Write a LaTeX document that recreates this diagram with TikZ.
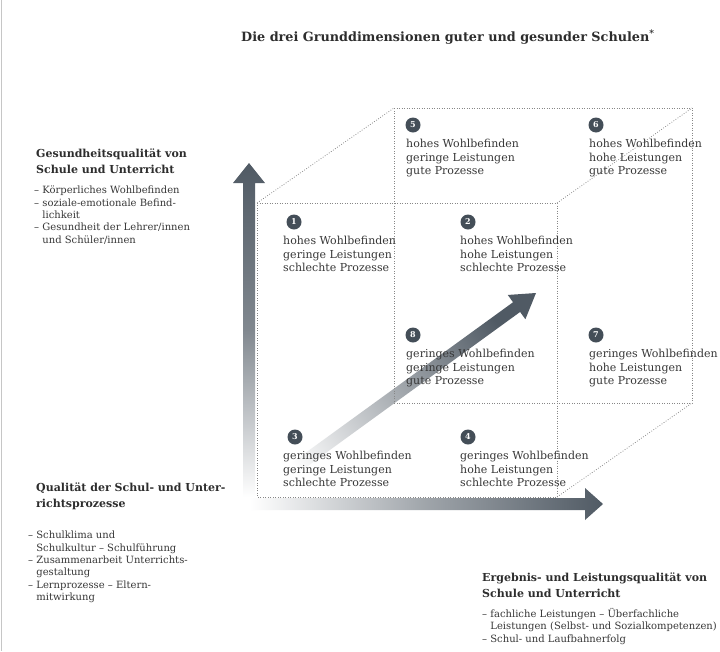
\documentclass[tikz,border=0pt]{standalone}
\usepackage{fontspec}
\setmainfont{DejaVu Serif}
\usetikzlibrary{calc}
\definecolor{adark}{RGB}{80,90,100}
\definecolor{cgray}{RGB}{68,78,88}
\definecolor{lgray}{RGB}{135,135,135}
\definecolor{txt}{RGB}{55,55,55}
\definecolor{htxt}{RGB}{45,45,45}
\begin{document}
\begin{tikzpicture}[x=1pt,y=-1pt,
  cubeline/.style={draw=lgray, line width=0.75pt, dash pattern=on 0.8pt off 1.7pt},
  numc/.style={circle, fill=cgray, text=white, font=\bfseries\fontsize{8}{8}\selectfont, inner sep=0pt, minimum size=15pt},
  celltext/.style={anchor=north west, align=left, inner sep=0pt, text=txt, font=\fontsize{11}{13.5}\selectfont},
  headtext/.style={anchor=north west, align=left, inner sep=0pt, text=htxt, font=\bfseries\fontsize{11}{15.5}\selectfont},
  listtext/.style={anchor=north west, align=left, inner sep=0pt, text=txt, font=\fontsize{10}{12.3}\selectfont},
  titletext/.style={anchor=west, inner sep=0pt, text=htxt, font=\bfseries\fontsize{12.8}{15}\selectfont}
]
\useasboundingbox (0,0) rectangle (720,651);
\fill[white] (0,0) rectangle (720,651);
\draw[gray!45, line width=0.8pt] (1.5,0) -- (1.5,651);

% cube corners
\coordinate (FTL) at (257,203);
\coordinate (FTR) at (557,203);
\coordinate (FBR) at (557,497);
\coordinate (FBL) at (257,497);
\coordinate (BTL) at (394,108);
\coordinate (BTR) at (692,108);
\coordinate (BBR) at (692,403);
\coordinate (BBL) at (394,403);

% arrows (shaded shapes)
\shade[top color=adark, bottom color=white, middle color=adark!72!white]
  (243,497) -- (243,183) -- (233,183) -- (249,163) -- (265,183) -- (255,183) -- (255,497) -- cycle;
\shade[left color=white, right color=adark, middle color=adark!55!white]
  (250,498) -- (585,498) -- (585,488) -- (603,504) -- (585,520) -- (585,510) -- (250,510) -- cycle;

\coordinate (dS) at (259,494);
\coordinate (dT) at (536,293);
\coordinate (dB) at ($(dT)!24pt!(dS)$);
\shade[top color=adark, bottom color=white, shading angle=-54]
  ($(dS)!6pt!90:(dT)$) -- ($(dB)!6pt!-90:(dS)$) -- ($(dB)!15pt!-90:(dS)$) -- (dT)
  -- ($(dB)!15pt!90:(dS)$) -- ($(dB)!6pt!90:(dS)$) -- ($(dS)!6pt!-90:(dT)$) -- cycle;

% cube lines
\draw[cubeline] (FTL) -- (FTR) -- (FBR) -- (FBL) -- cycle;
\draw[cubeline] (BTL) -- (BTR) -- (BBR) -- (BBL) -- cycle;
\draw[cubeline] (FTL) -- (BTL);
\draw[cubeline] (FTR) -- (BTR);
\draw[cubeline] (FBR) -- (BBR);

% title
\node[titletext] (title) at (241,37) {Die drei Grunddimensionen guter und gesunder Schulen\textsuperscript{*}};

% cells
\node[numc] (n5) at (413,125) {5};
\node[celltext] (c5) at (406,139) {hohes Wohlbefinden\\geringe Leistungen\\gute Prozesse};
\node[numc] (n6) at (596,125) {6};
\node[celltext] (c6) at (589,139) {hohes Wohlbefinden\\hohe Leistungen\\gute Prozesse};
\node[numc] (n1) at (294,222) {1};
\node[celltext] (c1) at (283,236) {hohes Wohlbefinden\\geringe Leistungen\\schlechte Prozesse};
\node[numc] (n2) at (468,222) {2};
\node[celltext] (c2) at (460,236) {hohes Wohlbefinden\\hohe Leistungen\\schlechte Prozesse};
\node[numc] (n8) at (413,335) {8};
\node[celltext] (c8) at (406,349) {geringes Wohlbefinden\\geringe Leistungen\\gute Prozesse};
\node[numc] (n7) at (596,335) {7};
\node[celltext] (c7) at (589,349) {geringes Wohlbefinden\\hohe Leistungen\\gute Prozesse};
\node[numc] (n3) at (295,437) {3};
\node[celltext] (c3) at (283,451) {geringes Wohlbefinden\\geringe Leistungen\\schlechte Prozesse};
\node[numc] (n4) at (468,437) {4};
\node[celltext] (c4) at (460,451) {geringes Wohlbefinden\\hohe Leistungen\\schlechte Prozesse};

% top-left block
\node[headtext] (h1) at (36,149) {Gesundheitsqualität von\\Schule und Unterricht};
\node[listtext] (l1) at (34,186) {– Körperliches Wohlbefinden\\– soziale-emotionale Befind-\\\hphantom{– }lichkeit\\– Gesundheit der Lehrer/innen\\\hphantom{– }und Schüler/innen};

% bottom-left block
\node[headtext] (h2) at (36,483) {Qualität der Schul- und Unter-\\richtsprozesse};
\node[listtext] (l2) at (28,531) {– Schulklima und\\\hphantom{– }Schulkultur – Schulführung\\– Zusammenarbeit Unterrichts-\\\hphantom{– }gestaltung\\– Lernprozesse – Eltern-\\\hphantom{– }mitwirkung};

% bottom-right block
\node[headtext] (h3) at (482,573) {Ergebnis- und Leistungsqualität von\\Schule und Unterricht};
\node[listtext] (l3) at (482,608) {– fachliche Leistungen – Überfachliche\\\hphantom{– }Leistungen (Selbst- und Sozialkompetenzen)\\– Schul- und Laufbahnerfolg};
\end{tikzpicture}
\end{document}
